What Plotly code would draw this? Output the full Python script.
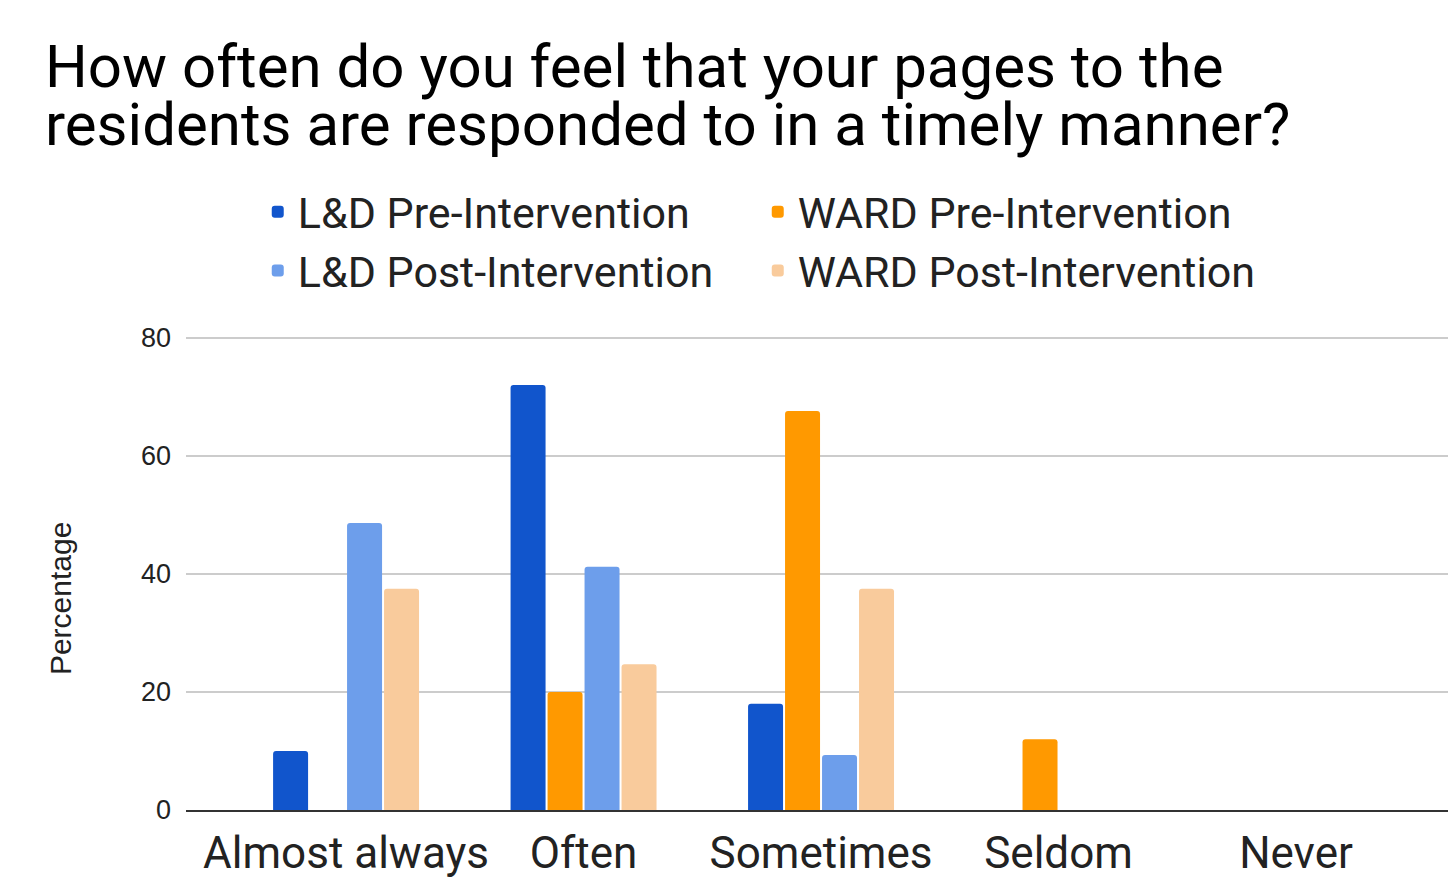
import plotly.graph_objects as go

# Survey responses (percent of respondents)
categories = ["Almost always", "Often", "Sometimes", "Seldom", "Never"]
series_names = [
    "L&D Pre-Intervention",
    "WARD Pre-Intervention",
    "L&D Post-Intervention",
    "WARD Post-Intervention",
]
ld_pre = [10, 72, 18, 0, 0]
ward_pre = [0, 20, 67.6, 12, 0]
ld_post = [48.6, 41.2, 9.3, 0, 0]
ward_post = [37.5, 24.7, 37.5, 0, 0]
y_ticks = [0, 20, 40, 60, 80]

title_lines = [
    "How often do you feel that your pages to the",
    "residents are responded to in a timely manner?",
]
y_title = "Percentage"

colors = ["#1155cc", "#ff9900", "#6d9eeb", "#f9cb9c"]
values = [ld_pre, ward_pre, ld_post, ward_post]

fig = go.Figure()
for name, vals, col in zip(series_names, values, colors):
    fig.add_trace(go.Bar(
        x=categories, y=vals, name=name,
        marker=dict(color=col, line=dict(width=0)),
    ))

fig.update_layout(
    width=1448, height=886,
    margin=dict(l=186, r=0, t=336, b=76),
    paper_bgcolor="white", plot_bgcolor="white",
    barmode="group", bargap=0.377, bargroupgap=0.054,
    barcornerradius=3,
    font=dict(family="Roboto", color="#222222"),
    showlegend=True,
    legend=dict(
        orientation="h",
        xref="container", yref="container",
        x=0.178, xanchor="left",
        y=0.80, yanchor="top",
        font=dict(family="Roboto", size=43, color="#222222"),
        entrywidth=455, entrywidthmode="pixels",
        traceorder="normal",
        bgcolor="rgba(0,0,0,0)",
    ),
    xaxis=dict(
        type="category",
        range=[-0.674, 4.64],
        showgrid=False,
        showline=True, linecolor="#333333", linewidth=2,
        ticks="", ticklabelstandoff=3,
        tickfont=dict(family="Roboto", size=44, color="#222222"),
        fixedrange=True,
    ),
    yaxis=dict(
        range=[0, 80.3],
        tickvals=y_ticks,
        showgrid=True, gridcolor="#cccccc", gridwidth=1.5,
        zeroline=False, showline=False,
        ticks="", ticklabelstandoff=14,
        tickfont=dict(family="Liberation Sans", size=27, color="#222222"),
        fixedrange=True,
    ),
)

# Vertical axis caption
fig.add_annotation(
    text=y_title, xref="paper", yref="paper",
    x=-0.0998, y=0.445, xanchor="center", yanchor="middle",
    textangle=-90, showarrow=False,
    font=dict(family="Liberation Sans", size=30, color="#222222"),
)

# Two-line chart heading
for i, line in enumerate(title_lines):
    fig.add_annotation(
        text=line, xref="paper", yref="paper",
        x=-0.113, xanchor="left",
        y=1.49 - i * 0.1225, yanchor="bottom",
        showarrow=False,
        font=dict(family="Roboto", size=60, color="#000000"),
    )

fig.write_html("out.html")
